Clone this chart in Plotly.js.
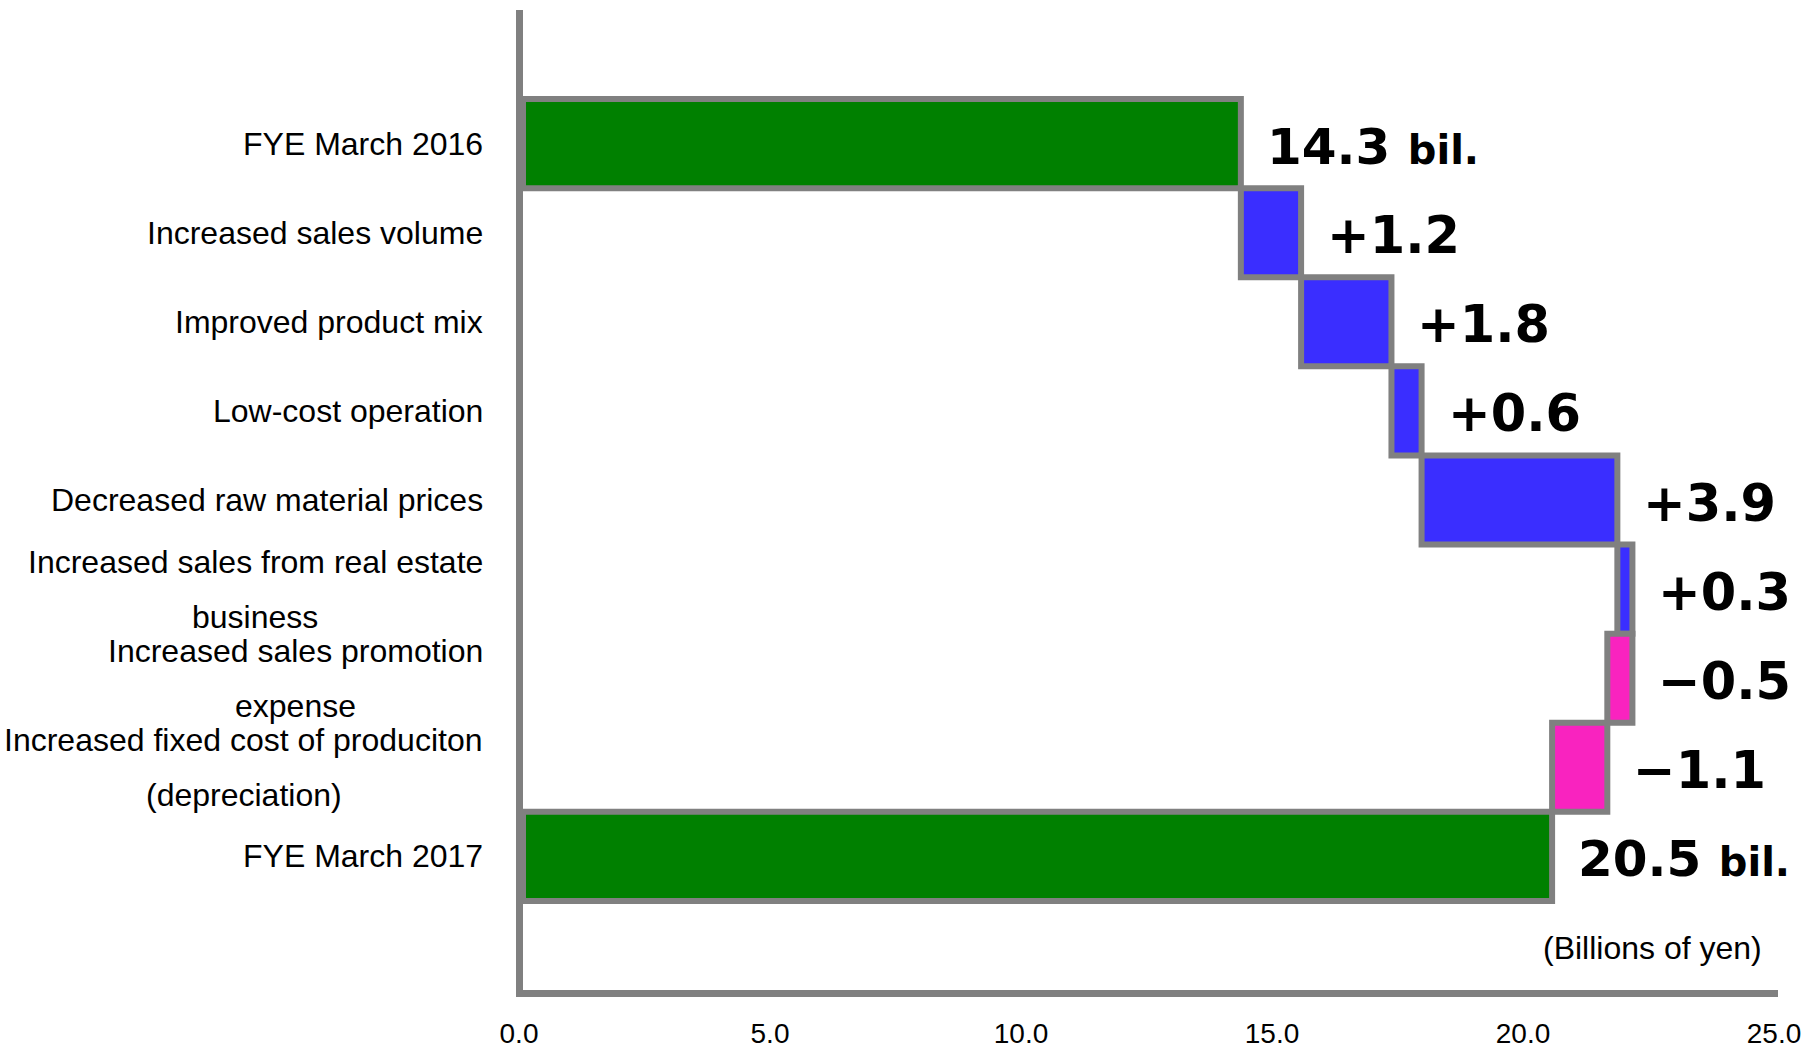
<!DOCTYPE html>
<html>
<head>
<meta charset="utf-8">
<script src="https://cdn.plot.ly/plotly-3.0.1.min.js"></script>
<style>
  html, body { margin: 0; padding: 0; background: #ffffff; }
  #chart { width: 1808px; height: 1052px; }
</style>
</head>
<body>
<div id="chart"></div>
<script>
// ---- data ----
const categories = [
  "FYE March 2016",
  "Increased sales volume",
  "Improved product mix",
  "Low-cost operation",
  "Decreased raw material prices",
  "Increased sales from real estate\nbusiness",
  "Increased sales promotion\nexpense",
  "Increased fixed cost of produciton\n(depreciation)",
  "FYE March 2017"
];
const values = [14.3, 1.2, 1.8, 0.6, 3.9, 0.3, -0.5, -1.1, 20.5];
const measures = ["absolute", "relative", "relative", "relative", "relative",
                  "relative", "relative", "relative", "total"];
const xTickVals = [0, 5, 10, 15, 20, 25];
const xTickText = ["0.0", "5.0", "10.0", "15.0", "20.0", "25.0"];
const unitNote = "(Billions of yen)";
const totalSuffix = "bil.";

// ---- styles ----
const GREEN = "#008000", BLUE = "#3a2eff", PINK = "#f923bf", GRAY = "#808080";
const LABEL_FONT = "Liberation Sans, Arial, sans-serif";
const VALUE_FONT = "DejaVu Sans, Verdana, sans-serif";
const CAT_SIZE = 32;

const keys = categories.map(s => s.replace("\n", " "));

const trace = {
  type: "waterfall",
  orientation: "h",
  y: keys,
  x: values,
  measure: measures,
  textinfo: "none",
  hoverinfo: "skip",
  connector: { visible: false },
  totals:     { marker: { color: GREEN, line: { color: GRAY, width: 6 } } },
  increasing: { marker: { color: BLUE,  line: { color: GRAY, width: 6 } } },
  decreasing: { marker: { color: PINK,  line: { color: GRAY, width: 6 } } }
};

// text measurement for centering the second lines of labels
const ctx = document.createElement("canvas").getContext("2d");
ctx.font = CAT_SIZE + "px 'Liberation Sans'";
const tw = s => ctx.measureText(s).width;

const annotations = [];
const GAP = 38;
categories.forEach((c, i) => {
  const lines = c.split("\n");
  if (lines.length === 1) {
    annotations.push({ xref: "paper", yref: "y", x: 0, y: i, xanchor: "right", yanchor: "middle",
      xshift: -GAP, text: lines[0], showarrow: false,
      font: { family: LABEL_FONT, size: CAT_SIZE, color: "#000" } });
  } else {
    const w0 = tw(lines[0]);
    lines.forEach((ln, j) => {
      const w = tw(ln);
      annotations.push({ xref: "paper", yref: "y", x: 0, y: i, xanchor: "right", yanchor: "middle",
        xshift: -GAP - (w0 - w) / 2, yshift: j === 0 ? 27.5 : -27.5, text: ln, showarrow: false,
        font: { family: LABEL_FONT, size: CAT_SIZE, color: "#000" } });
    });
  }
});

// value labels at the right end of each bar
let cum = 0;
values.forEach((v, i) => {
  let start, end, txt, size;
  if (measures[i] === "absolute") { start = 0; end = v; cum = v; size = 50;
    txt = v.toFixed(1) + " <span style='font-size:40px'>" + totalSuffix + "</span>"; }
  else if (measures[i] === "total") { start = 0; end = cum; size = 50;
    txt = cum.toFixed(1) + " <span style='font-size:40px'>" + totalSuffix + "</span>"; }
  else { start = cum; end = cum + v; cum = end; size = 51;
    txt = (v > 0 ? "+" : "\u2212") + Math.abs(v).toFixed(1); }
  annotations.push({ xref: "x", yref: "y", x: Math.max(start, end), y: i,
    xanchor: "left", yanchor: "middle", xshift: 24, yshift: -3, text: txt, showarrow: false,
    font: { family: VALUE_FONT, size: size, color: "#000", weight: "bold" } });
});

annotations.push({ xref: "paper", yref: "paper", x: 1, y: 0.043, xanchor: "right", yanchor: "middle",
  xshift: -14, text: unitNote, showarrow: false,
  font: { family: LABEL_FONT, size: CAT_SIZE, color: "#000" } });

const layout = {
  width: 1808, height: 1052,
  margin: { l: 523, r: 30, t: 10, b: 62, pad: 0 },
  paper_bgcolor: "#ffffff", plot_bgcolor: "#ffffff",
  showlegend: false,
  waterfallgap: 0,
  xaxis: {
    range: [0, 25], tickvals: xTickVals, ticktext: xTickText,
    showgrid: false, zeroline: false, showline: true, linecolor: GRAY, linewidth: 7,
    ticks: "", ticklabelstandoff: 12, ticklabelshift: -4,
    tickfont: { family: LABEL_FONT, size: 28, color: "#000" }, fixedrange: true
  },
  yaxis: {
    type: "category", range: [9.5, -1.5],
    showgrid: false, zeroline: false, showline: true, linecolor: GRAY, linewidth: 7,
    showticklabels: false, ticks: "", fixedrange: true
  },
  annotations: annotations
};

Plotly.newPlot("chart", [trace], layout, { displayModeBar: false, staticPlot: true });
</script>
</body>
</html>
